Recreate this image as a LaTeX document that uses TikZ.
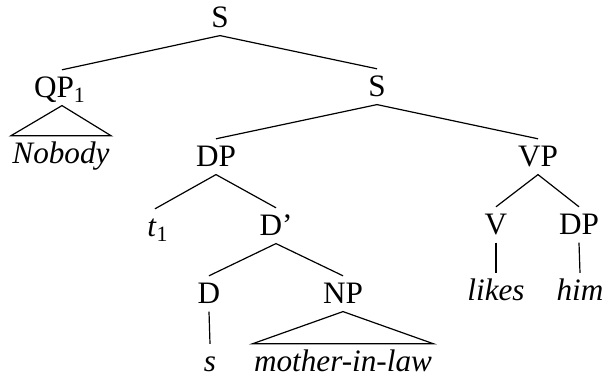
\documentclass[tikz,border=0pt]{standalone}
\usepackage{fontspec}
\setmainfont{Liberation Serif}
\usepackage{tikz}

\begin{document}
\begin{tikzpicture}[x=0.5pt, y=-0.5pt, line width=0.6 pt]
\tikzstyle{cat} = [anchor=base, inner ysep=3.5 pt, inner xsep=0.5 pt, text height=10.3 pt, text depth=0 pt, font=\fontsize{15.6pt}{18pt}\selectfont]
\useasboundingbox (0,0) rectangle (607,379);

\node (S)      [cat] at (220,28)  {S};
\node (QP)     [cat] at (60,98)   {QP\textsubscript{1}};
\node (Nobody) [cat] at (61,164)  {\textit{Nobody}};
\node (S2)     [cat] at (377,97)  {S};
\node (DP)     [cat] at (216,167) {DP};
\node (VP)     [cat] at (538,167) {VP};
\node (T)      [cat] at (158,237) {\textit{t}\textsubscript{1}};
\node (Dbar)   [cat] at (276,236) {D'};
\node (V)      [cat] at (496,235) {V};
\node (DPo)    [cat] at (579,235) {DP};
\node (D)      [cat] at (209,304) {D};
\node (NP)     [cat] at (343,304) {NP};
\node (likes)  [cat] at (496,301) {\textit{likes}};
\node (him)    [cat] at (580,301) {\textit{him}};
\node (s)      [cat] at (210,372) {\textit{s}};
\node (mil)    [cat] at (343,372) {\textit{mother-in-law}};

\draw (QP.north -| 62,0) -- (S.south) -- (S2.north);
\draw (QP.south -| 62,0) -- (Nobody.north west) -- (Nobody.north east) -- cycle;
\draw (DP.north) -- (S2.south) -- (VP.north);
\draw (T.north -| 155,0) -- (DP.south) -- (Dbar.north);
\draw (D.north) -- (Dbar.south) -- (NP.north);
\draw (D.south) -- (s.north);
\draw (NP.south) -- (mil.north west) -- (mil.north east) -- cycle;
\draw (V.north) -- (VP.south) -- (DPo.north);
\draw (V.south) -- (likes.north);
\draw (DPo.south) -- (him.north);

\end{tikzpicture}
\end{document}
